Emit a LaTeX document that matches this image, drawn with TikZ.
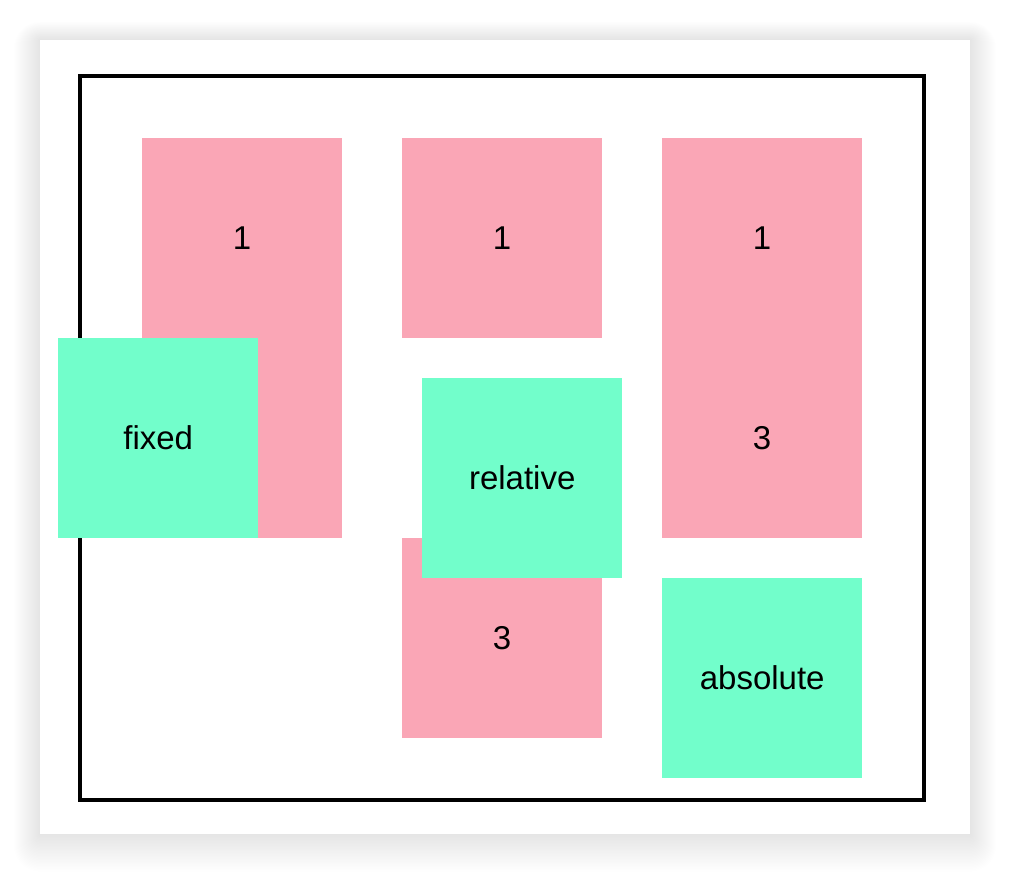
\documentclass[tikz,border=0pt]{standalone}
\usepackage{fontspec}
\setmainfont{Liberation Sans}
\definecolor{boxpink}{RGB}{250,166,182}
\definecolor{boxgreen}{RGB}{114,254,203}
\begin{document}
\begin{tikzpicture}[x=1pt,y=-1pt,
  pinkbox/.style={fill=boxpink, draw=none, inner sep=0pt, anchor=north west, minimum width=200pt},
  greenbox/.style={fill=boxgreen, draw=none, inner sep=0pt, anchor=north west, minimum width=200pt, minimum height=200pt},
  lbl/.style={font=\fontsize{33}{38}\selectfont, text=black, inner sep=0pt}]
\useasboundingbox (0,0) rectangle (1010,874);
% shadow
\foreach \i in {1,...,26}{
  \fill[black, opacity=0.005, rounded corners=\i pt] (40-\i,40-\i+\i*0.3) rectangle (970+\i,834+\i+\i*0.45);
}
\fill[white] (40,40) rectangle (970,834);
% container
\draw[line width=3.6pt] (80,76) rectangle (924,800);
% pink boxes
\node[pinkbox, minimum height=400pt] (p1) at (142,138) {};
\node[pinkbox, minimum height=200pt] (p2) at (402,138) {};
\node[pinkbox, minimum height=400pt] (p3) at (662,138) {};
\node[pinkbox, minimum height=200pt] (p4) at (402,538) {};
\node[lbl] (t1) at (242,238) {1};
\node[lbl] (t2) at (502,238) {1};
\node[lbl] (t3) at (762,238) {1};
\node[lbl] (t4) at (762,438) {3};
\node[lbl] (t5) at (502,638) {3};
% green boxes
\node[greenbox] (fixed) at (58,338) {};
\node[greenbox] (relative) at (422,378) {};
\node[greenbox] (absolute) at (662,578) {};
\node[lbl] at (fixed.center) {fixed};
\node[lbl] at (relative.center) {relative};
\node[lbl] at (absolute.center) {absolute};
\end{tikzpicture}
\end{document}
